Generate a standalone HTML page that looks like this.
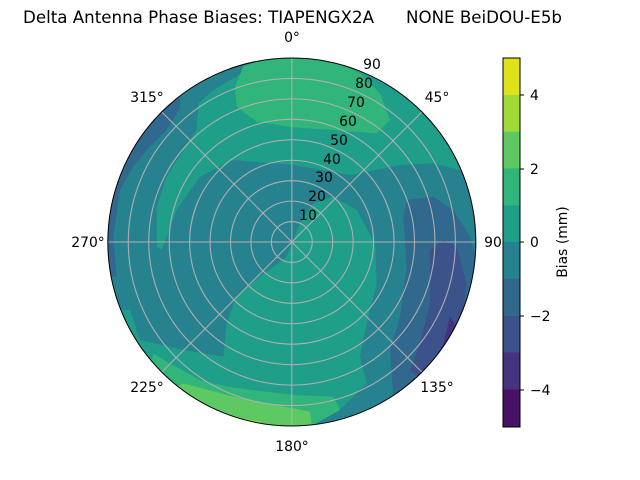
<!DOCTYPE html>
<html><head><meta charset="utf-8"><style>
html,body{margin:0;padding:0;background:#fff;}
svg{display:block;font-family:"DejaVu Sans","Liberation Sans",sans-serif;}
</style></head><body>
<svg width="640" height="480" viewBox="0 0 640 480" xmlns="http://www.w3.org/2000/svg">
<defs><clipPath id="c"><circle cx="575.5" cy="576" r="552"/></clipPath></defs>
<rect width="640" height="480" fill="#fff"/>
<text x="23" y="23" font-size="16.6" fill="#000" textLength="351" lengthAdjust="spacingAndGlyphs">Delta Antenna Phase Biases: TIAPENGX2A</text>
<text x="406" y="23" font-size="16.6" fill="#000" textLength="156" lengthAdjust="spacingAndGlyphs">NONE BeiDOU-E5b</text>
<g transform="translate(100,50) scale(0.33333)">
<g clip-path="url(#c)">
<rect x="0" y="0" width="1170" height="1170" fill="#26828e"/>
<path fill="#1f9e89" d="M430,-50 L430,20 L425,70 L340,120 L295,160 L290,240 L250,300 L200,380 L170,470 L170,590 L185,600 L230,480 L300,380 L400,330 L580,345 L750,375 L900,345 L1000,340 L1080,360 L1120,400 L1200,400 L1200,-50 Z"/>
<path fill="#1f9e89" d="M700,440 L770,480 L825,580 L830,700 L800,820 L780,920 L800,1000 L730,1070 L640,1120 L640,1200 L60,1200 L60,780 L90,780 L120,870 L250,900 L370,920 L380,820 L410,740 L480,680 L560,620 L600,520 L640,460 Z"/>
<path fill="#31b57b" d="M430,50 L500,25 L580,22 L700,30 L780,70 L840,130 L870,210 L830,250 L700,240 L580,232 L470,215 L410,170 L405,110 Z"/>
<path fill="#31b57b" d="M160,910 L200,935 L300,990 L380,1010 L580,1035 L700,1040 L720,1080 L640,1125 L580,1180 L100,1180 L150,960 Z"/>
<path fill="#5ec962" d="M250,1000 L400,1040 L630,1085 L635,1125 L580,1140 L400,1125 L260,1055 L230,1010 Z"/>
<path fill="#a0da39" d="M390,1100 L480,1115 L480,1140 L390,1140 Z"/>
<path fill="#31688e" d="M240,120 L240,175 L200,240 L140,300 L100,350 L60,420 L40,560 L50,680 L-10,680 L-10,120 Z"/>
<path fill="#3b528b" d="M0,280 L60,290 L70,340 L45,400 L0,420 Z"/>
<path fill="#31688e" d="M920,450 L1000,440 L1060,480 L1110,560 L1150,700 L1120,900 L970,990 L880,1040 L870,900 L900,800 L920,650 L910,500 Z"/>
<path fill="#3b528b" d="M990,600 L1030,570 L1070,590 L1100,700 L1090,800 L1050,900 L1000,960 L960,990 L930,960 L960,880 L990,760 L990,680 Z"/>
<path fill="#46337f" d="M1050,800 L1070,830 L1100,850 L1020,960 L995,950 L1030,880 Z"/>
</g>
<g fill="none" stroke="#b0b0b0" stroke-width="3.2">
<circle cx="575.5" cy="576" r="61.3"/><circle cx="575.5" cy="576" r="122.7"/><circle cx="575.5" cy="576" r="184"/>
<circle cx="575.5" cy="576" r="245.3"/><circle cx="575.5" cy="576" r="306.7"/><circle cx="575.5" cy="576" r="368"/>
<circle cx="575.5" cy="576" r="429.3"/><circle cx="575.5" cy="576" r="490.7"/>
<line x1="575.5" y1="24" x2="575.5" y2="1128"/><line x1="23.5" y1="576" x2="1127.5" y2="576"/>
<line x1="185.2" y1="185.7" x2="965.8" y2="966.3"/><line x1="965.8" y1="185.7" x2="185.2" y2="966.3"/>
</g>
<circle cx="575.5" cy="576" r="552" fill="none" stroke="#000" stroke-width="3"/>
</g>
<g font-size="13.9" fill="#000" text-anchor="middle">
<text x="292" y="42">0°</text>
<text x="437" y="102">45°</text>
<text x="493" y="247">90</text>
<text x="437" y="392">135°</text>
<text x="292" y="451">180°</text>
<text x="147" y="392">225°</text>
<text x="88" y="247">270°</text>
<text x="147" y="102">315°</text>
<text x="308" y="220">10</text>
<text x="317" y="201">20</text>
<text x="324" y="182">30</text>
<text x="332" y="164">40</text>
<text x="339" y="145">50</text>
<text x="348" y="126">60</text>
<text x="356" y="107">70</text>
<text x="364" y="88">80</text>
<text x="372" y="69">90</text>
</g>
<g>
<rect x="503" y="58" width="17" height="37" fill="#dde318"/>
<rect x="503" y="94.8" width="17" height="37" fill="#a0da39"/>
<rect x="503" y="131.6" width="17" height="37" fill="#5ec962"/>
<rect x="503" y="168.4" width="17" height="37" fill="#31b57b"/>
<rect x="503" y="205.2" width="17" height="37" fill="#1f9e89"/>
<rect x="503" y="242" width="17" height="37" fill="#26828e"/>
<rect x="503" y="278.8" width="17" height="37" fill="#31688e"/>
<rect x="503" y="315.6" width="17" height="37" fill="#3b528b"/>
<rect x="503" y="352.4" width="17" height="37" fill="#46337f"/>
<rect x="503" y="389.2" width="17" height="37.8" fill="#471164"/>
<rect x="503" y="58" width="17" height="369" fill="none" stroke="#000" stroke-width="1"/>
<g stroke="#000" stroke-width="1">
<line x1="520" y1="95" x2="524" y2="95"/><line x1="520" y1="169" x2="524" y2="169"/>
<line x1="520" y1="242" x2="524" y2="242"/><line x1="520" y1="316" x2="524" y2="316"/>
<line x1="520" y1="390" x2="524" y2="390"/>
</g>
<g font-size="13.9" fill="#000">
<text x="530" y="100">4</text><text x="530" y="174">2</text><text x="530" y="247">0</text>
<text x="530" y="321">−2</text><text x="530" y="395">−4</text>
</g>
<text transform="translate(567,242) rotate(-90)" font-size="13.9" text-anchor="middle" fill="#000">Bias (mm)</text>
</g>
</svg>
</body></html>
